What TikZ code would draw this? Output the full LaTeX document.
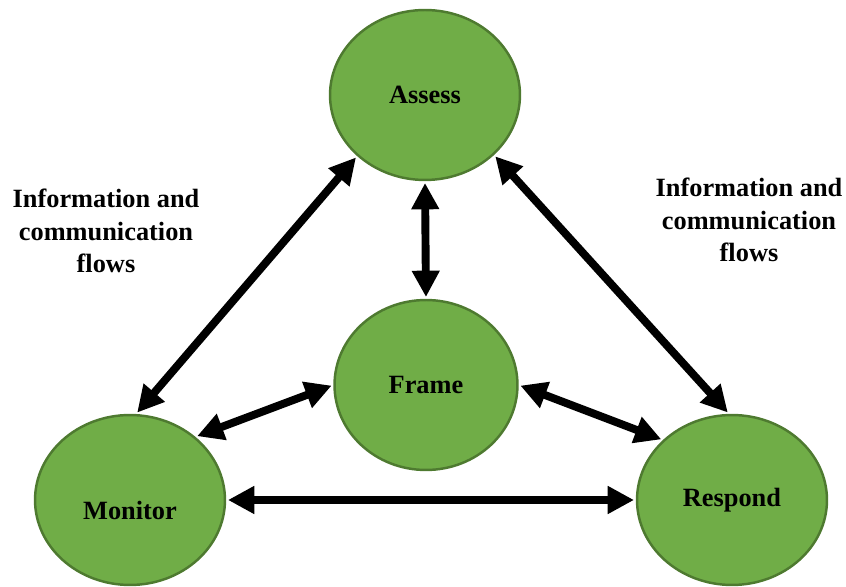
\documentclass[tikz,border=0pt]{standalone}
\usepackage{fontspec}
\setmainfont{Liberation Serif}
\usepackage{tikz}
\usetikzlibrary{arrows.meta,shapes.geometric}

\definecolor{stagegreen}{HTML}{70AD47}
\definecolor{stageedge}{HTML}{4E7A30}

\begin{document}
\begin{tikzpicture}[
    x=0.02cm, y=-0.02cm,
    stage/.style={ellipse, draw=stageedge, line width=1.4pt, fill=stagegreen,
        minimum width=3.8cm, minimum height=3.4cm, inner sep=0,
        font=\fontsize{15}{18}\selectfont\bfseries},
    flow/.style={line width=4.5pt, {Triangle[length=15pt,width=15pt]}-{Triangle[length=15pt,width=15pt]},
        shorten <=1pt, shorten >=1pt},
    note/.style={align=center, font=\fontsize{15}{18.5}\selectfont\bfseries}]
\useasboundingbox (0,0) rectangle (846,587);

% the four stages
\node[stage] (assess)  at (425,95)  {Assess};
\node[stage, minimum width=3.66cm] (frame) at (426,385) {Frame};
\node[stage] (monitor) at (130,500) {\raisebox{-11pt}[0pt][0pt]{Monitor}};
\node[stage] (respond) at (732,500) {Respond};

% flows between them
\draw[flow] (assess.222) -- (monitor.86);
\draw[flow] (assess.319) -- (respond.92);
\draw[flow] (assess.south) -- (frame.north);
\draw[flow] (monitor.44) -- (frame.west);
\draw[flow] (frame.east) -- (respond.139);
\draw[flow] (monitor.east) -- (respond.west);

% side notes
\node[note] (leftnote)  at (106,231) {Information and\\communication\\flows};
\node[note] (rightnote) at (749,220) {Information and\\communication\\flows};

\end{tikzpicture}
\end{document}
